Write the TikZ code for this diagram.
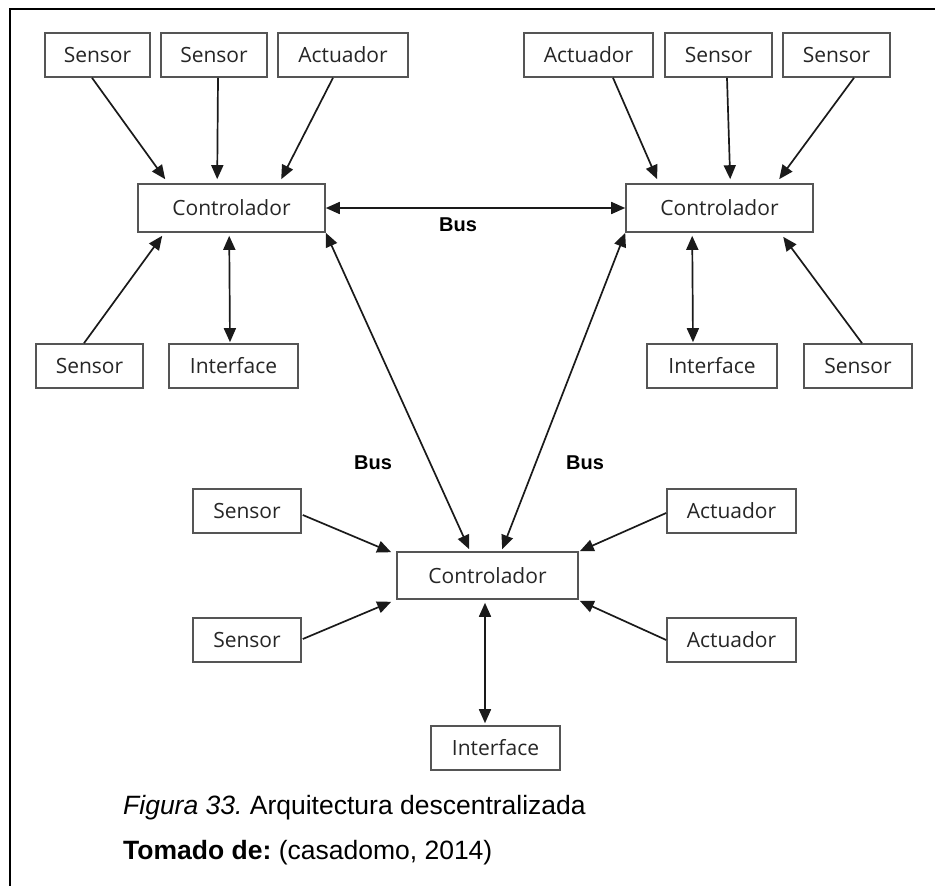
\documentclass[tikz,border=0pt]{standalone}
\usepackage{fontspec}
\setmainfont{Liberation Sans}
\newfontfamily\boxfont{Open Sans}
\usetikzlibrary{arrows.meta,calc}
\frenchspacing

\definecolor{boxline}{HTML}{555555}
\definecolor{boxtext}{HTML}{262626}
\definecolor{wire}{HTML}{1A1A1A}

\tikzset{
  tip/.tip={Triangle[length=14pt,width=12pt]},
  unit/.style={draw=boxline, line width=1.6pt, fill=white, minimum height=44pt,
    inner sep=0pt, text=boxtext, font=\boxfont\fontsize{21}{24}\selectfont},
  ctrl/.style={unit, minimum height=48pt},
  feed/.style={draw=wire, line width=1.7pt, -tip},
  link/.style={draw=wire, line width=1.7pt, tip-tip},
  buslabel/.style={font=\fontsize{20}{24}\selectfont\bfseries, text=black, inner sep=0pt},
  caption/.style={font=\fontsize{26.5}{30}\selectfont, text=black, inner sep=0pt, anchor=base west}
}

\begin{document}
\begin{tikzpicture}[x=1pt, y=-1pt]
  \useasboundingbox (0,0) rectangle (935,886);

  % page frame (left and top rules)
  \draw[line width=2pt, black] (9.5,886) -- (9.5,9) -- (935,9);

  % ---------- upper-left cell ----------
  \node[unit, minimum width=105pt] (s1) at (97.5,55) {Sensor};
  \node[unit, minimum width=106pt] (s2) at (214,55) {Sensor};
  \node[unit, minimum width=130pt] (a1) at (343,55) {Actuador};
  \node[ctrl, minimum width=187pt] (c1) at (231.5,208) {Controlador};
  \node[unit, minimum width=107pt] (s5) at (89.5,366) {Sensor};
  \node[unit, minimum width=129pt] (i1) at (233.5,366) {Interface};

  % ---------- upper-right cell ----------
  \node[unit, minimum width=129pt] (a2) at (588.5,55) {Actuador};
  \node[unit, minimum width=107pt] (s3) at (718.5,55) {Sensor};
  \node[unit, minimum width=107pt] (s4) at (836.5,55) {Sensor};
  \node[ctrl, minimum width=187pt] (c2) at (719.5,208) {Controlador};
  \node[unit, minimum width=130pt] (i2) at (712,366) {Interface};
  \node[unit, minimum width=108pt] (s6) at (858,366) {Sensor};

  % ---------- lower cell ----------
  \node[unit, minimum width=108pt] (s7) at (247,511) {Sensor};
  \node[unit, minimum width=108pt] (s8) at (247,640) {Sensor};
  \node[ctrl, minimum width=181pt, minimum height=47pt] (c3) at (487.5,575.5) {Controlador};
  \node[unit, minimum width=129pt] (a3) at (731.5,511) {Actuador};
  \node[unit, minimum width=129pt] (a4) at (731.5,640) {Actuador};
  \node[unit, minimum width=129pt] (i3) at (495.5,748) {Interface};

  % bus labels
  \node[buslabel] (bustop) at (458,225) {Bus};
  \node[buslabel] (busleft) at (373,463) {Bus};
  \node[buslabel] (busright) at (585,463) {Bus};

  % inputs of the upper-left controller
  \draw[feed] ($(s1.south)+(-5.5,0)$) -- ($(c1.north west)+(28,-4)$);
  \draw[feed] ($(s2.south)+(4,0)$) -- ($(c1.north west)+(80,-4)$);
  \draw[feed] ($(a1.south)+(-10,0)$) -- ($(c1.north west)+(144,-4)$);
  \draw[feed] ($(s5.north)+(-5.5,0)$) -- ($(c1.south west)+(25,3)$);
  \draw[link] ($(c1.south west)+(92,3)$) -- ($(i1.north)+(-3.5,-1)$);

  % inputs of the upper-right controller
  \draw[feed] ($(a2.south)+(24.5,0)$) -- ($(c2.north west)+(32,-4)$);
  \draw[feed] ($(s3.south)+(8.5,0)$) -- ($(c2.north west)+(105,-4)$);
  \draw[feed] ($(s4.south)+(17.5,0)$) -- ($(c2.north west)+(154,-4)$);
  \draw[feed] ($(s6.north)+(4,0)$) -- ($(c2.south west)+(158,4)$);
  \draw[link] ($(c2.south west)+(67,3)$) -- ($(i2.north)+(-19,-1)$);

  % inputs of the lower controller
  \draw[feed] ($(s7.east)+(1,4)$) -- ($(c3.north west)+(-5,1)$);
  \draw[feed] ($(s8.east)+(1,-1)$) -- ($(c3.south west)+(-5,2)$);
  \draw[feed] ($(a3.west)+(0,2)$) -- ($(c3.north east)+(1,0)$);
  \draw[feed] ($(a4.west)+(0,0)$) -- ($(c3.south east)+(1,1)$);
  \draw[link] ($(c3.south)+(-2.5,3)$) -- ($(i3.north)+(-10.5,-2)$);

  % bus between the controllers
  \draw[link] (c1.east) -- (c2.west);
  \draw[link] (c1.south east) -- ($(c3.north west)+(73,-2)$);
  \draw[link] (c2.south west) -- ($(c3.north west)+(106,-2)$);

  % caption
  \node[caption] (fig) at (123,814) {\textit{Figura 33.} Arquitectura descentralizada};
  \node[caption] (src) at (123,859) {\textbf{Tomado de:} (casadomo, 2014)};
\end{tikzpicture}
\end{document}
